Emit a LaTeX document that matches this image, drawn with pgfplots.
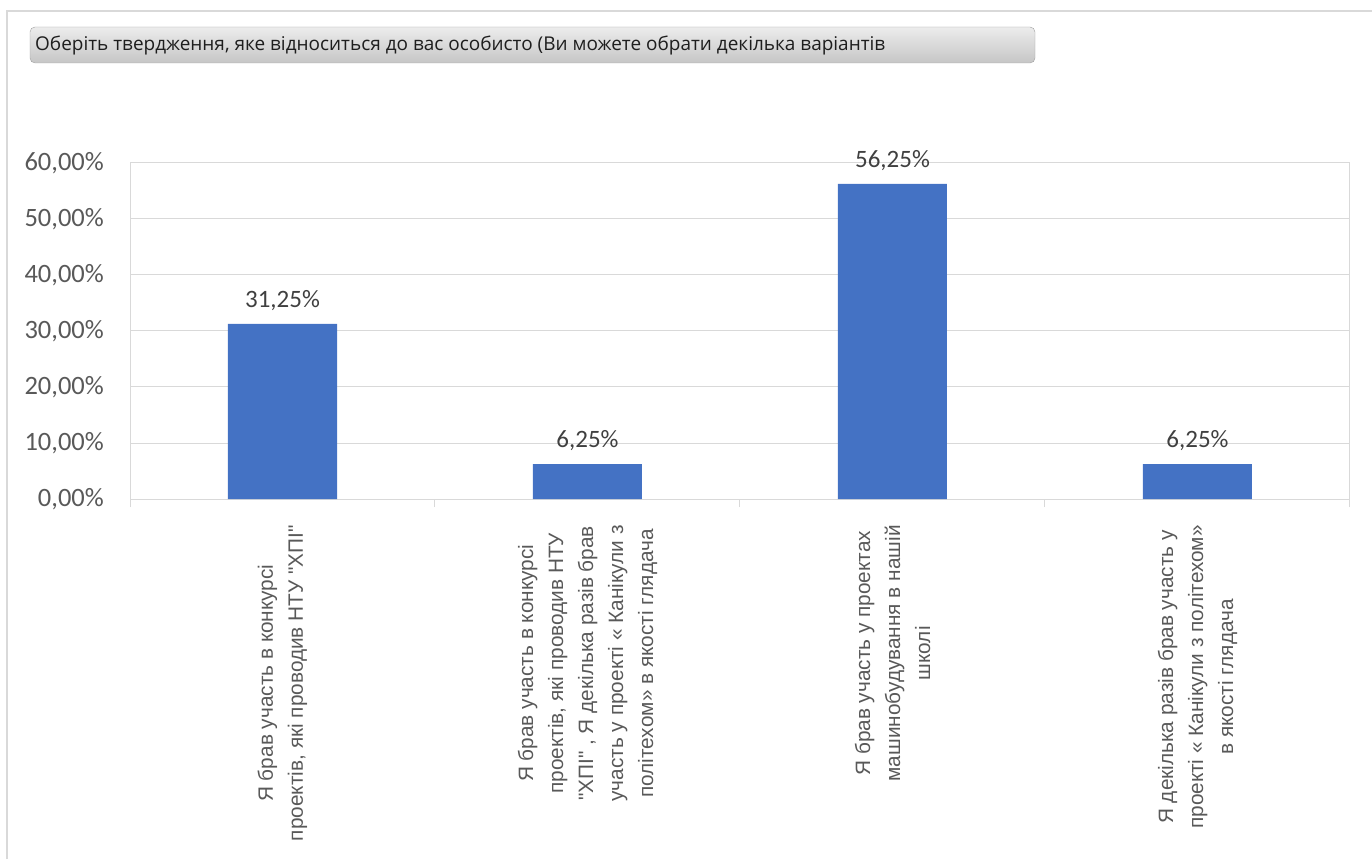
\documentclass[border=0pt]{standalone}
\usepackage{pgfplots}
\pgfplotsset{compat=1.18}
\usepackage{fontspec}
\setmainfont{Carlito}
\newfontfamily\lab[Ligatures=TeXOff]{Liberation Sans}
\newfontfamily\ttl{Open Sans}
\definecolor{barblue}{HTML}{4472C4}
\definecolor{tickgray}{HTML}{595959}
\definecolor{lblgray}{HTML}{404040}
\definecolor{gridgray}{HTML}{D9D9D9}
\definecolor{framegray}{HTML}{D9D9D9}
\begin{document}
\begin{tikzpicture}[x=1pt,y=1pt]
\path[use as bounding box] (0,0) rectangle (1372,859);
% outer frame
\draw[framegray,line width=2pt] (7,0) -- (7,848) -- (1372,848);
% title box
\shade[rounded corners=5pt,top color={rgb,255:red,236;green,236;blue,236},bottom color={rgb,255:red,198;green,198;blue,198},draw={rgb,255:red,160;green,160;blue,160}] (30,796) rectangle (1035,832);
\node[anchor=west,inner sep=0pt,text={rgb,255:red,30;green,30;blue,30}] at (35,813) {\resizebox{850pt}{\height}{\ttl\fontsize{19pt}{21pt}\selectfont Оберіть твердження, яке відноситься до вас особисто (Ви можете обрати декілька варіантів}};
\begin{axis}[
  at={(130pt,360pt)}, anchor=south west,
  scale only axis, width=1220pt, height=336pt,
  xmin=-0.5, xmax=3.5, ymin=0, ymax=60,
  xtick={0,1,2,3},
  xticklabels={
    {Я брав участь в конкурсі\\проектів, які проводив НТУ "ХПІ"},
    {Я брав участь в конкурсі\\проектів, які проводив НТУ\\"ХПІ" , Я декілька разів брав\\участь у проекті « Канікули з\\політехом» в якості глядача},
    {Я брав участь у проектах\\машинобудування в нашій\\школі},
    {Я декілька разів брав участь у\\проекті « Канікули з політехом»\\в якості глядача}},
  xticklabel style={rotate=90, anchor=east, align=center, inner sep=0pt, text=tickgray,
    font=\lab\fontsize{20.8pt}{30pt}\selectfont},
  xticklabel shift=26pt,
  ytick={0,10,20,30,40,50,60},
  yticklabels={{0,00\%},{10,00\%},{20,00\%},{30,00\%},{40,00\%},{50,00\%},{60,00\%}},
  yticklabel style={anchor=east, inner sep=0pt, text=tickgray, font=\fontsize{26.5pt}{30pt}\selectfont},
  yticklabel shift=26pt,
  major tick length=0pt,
  ymajorgrids, grid style={gridgray, line width=1pt},
  axis line style={gridgray, line width=1pt},
  extra x ticks={-0.5,0.5,1.5,2.5,3.5},
  extra x tick labels={},
  extra x tick style={major tick length=8pt, tick align=outside, xtick pos=bottom, grid=none,
    tick style={gridgray, line width=1pt}},
  ybar, bar width=109pt,
  nodes near coords,
  point meta=explicit symbolic,
  every node near coord/.append style={anchor=south, inner sep=0pt, yshift=13pt, text=lblgray,
    font=\fontsize{25pt}{28pt}\selectfont},
  clip=false,
]
\addplot[fill=barblue, draw=none] coordinates {
  (0,31.25) [31,25\%]
  (1,6.25) [6,25\%]
  (2,56.25) [56,25\%]
  (3,6.25) [6,25\%]
};
\end{axis}
\end{tikzpicture}
\end{document}
